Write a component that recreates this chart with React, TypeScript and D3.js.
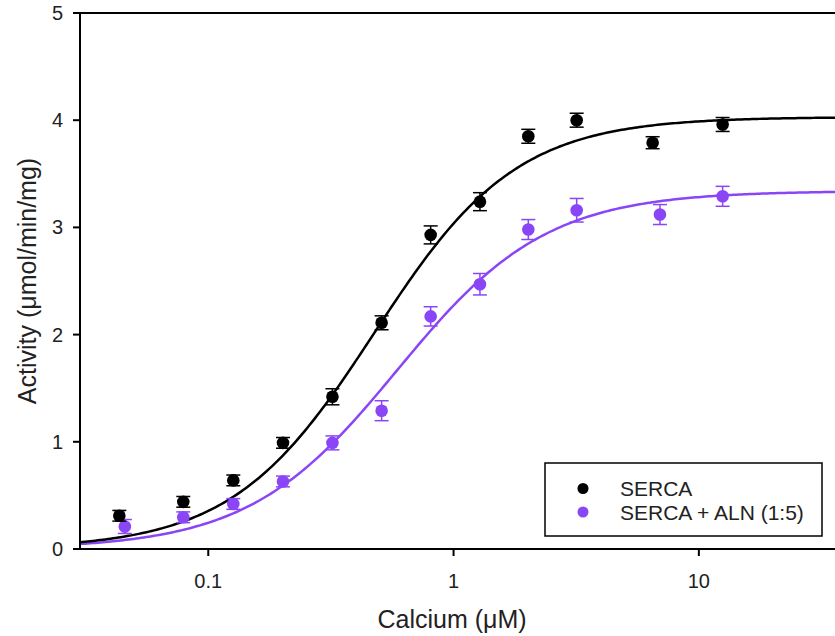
import React from 'react';
import * as d3 from 'd3';

const W = 835;
const H = 636;
const PLOT_LEFT = 80;
const PLOT_RIGHT = 835;
const PLOT_TOP = 13;
const PLOT_BOTTOM = 549;
const DECADE_PX = 245.3;

const X_DOMAIN = [0.03, 40];
const Y_DOMAIN = [0, 5];
const X_TICKS = [0.1, 1, 10];
const X_TICK_LABELS = ['0.1', '1', '10'];
const Y_TICKS = [0, 1, 2, 3, 4, 5];

const SERCA_X = [0.0434, 0.0791, 0.1265, 0.2017, 0.3208, 0.509, 0.8065, 1.281, 2.017, 3.176, 6.48, 12.5];
const SERCA_Y = [0.31, 0.44, 0.64, 0.99, 1.42, 2.11, 2.93, 3.24, 3.85, 4.0, 3.79, 3.96];
const SERCA_ERR = [0.05, 0.05, 0.05, 0.05, 0.075, 0.065, 0.084, 0.084, 0.065, 0.065, 0.056, 0.065];

const ALN_X = [0.0457, 0.0791, 0.1265, 0.2017, 0.3208, 0.509, 0.8065, 1.281, 2.017, 3.176, 6.94, 12.5];
const ALN_Y = [0.21, 0.296, 0.42, 0.63, 0.99, 1.29, 2.17, 2.47, 2.98, 3.16, 3.12, 3.29];
const ALN_ERR = [0.065, 0.05, 0.05, 0.05, 0.065, 0.093, 0.09, 0.1, 0.093, 0.11, 0.093, 0.093];

// Hill fit parameters [Vmax, KCa, nH]
const SERCA_FIT = [4.03, 0.475, 1.5];
const ALN_FIT = [3.34, 0.59, 1.43];

const SERIES_NAMES = ['SERCA', 'SERCA + ALN (1:5)'];
const COLORS = ['#000000', '#8A46F6'];

const FONT = '"Liberation Sans", Arial, sans-serif';

const x = d3
  .scaleLog()
  .domain(X_DOMAIN)
  .range([PLOT_LEFT, PLOT_LEFT + DECADE_PX * Math.log10(X_DOMAIN[1] / X_DOMAIN[0])]);
const y = d3.scaleLinear().domain(Y_DOMAIN).range([PLOT_BOTTOM, PLOT_TOP]);

function hill(c: number, fit: number[]) {
  const [v, k, n] = fit;
  const t = Math.pow(c / k, n);
  return (v * t) / (1 + t);
}

function curvePath(fit: number[]) {
  const lx0 = Math.log10(X_DOMAIN[0]);
  const lx1 = Math.log10(X_DOMAIN[1]);
  const pts: [number, number][] = [];
  const N = 300;
  for (let i = 0; i <= N; i++) {
    const c = Math.pow(10, lx0 + ((lx1 - lx0) * i) / N);
    pts.push([x(c), y(hill(c, fit))]);
  }
  return d3.line()(pts) || '';
}

function Points({ xs, ys, errs, color }: { xs: number[]; ys: number[]; errs: number[]; color: string }) {
  return (
    <g>
      {xs.map((xv, i) => {
        const cx = x(xv);
        const cy = y(ys[i]);
        const top = y(ys[i] + errs[i]);
        const bot = y(ys[i] - errs[i]);
        return (
          <g key={i}>
            <line x1={cx} x2={cx} y1={top} y2={bot} stroke={color} strokeWidth={1.5} />
            <line x1={cx - 7} x2={cx + 7} y1={top} y2={top} stroke={color} strokeWidth={1.5} />
            <line x1={cx - 7} x2={cx + 7} y1={bot} y2={bot} stroke={color} strokeWidth={1.5} />
            <circle cx={cx} cy={cy} r={6.3} fill={color} />
          </g>
        );
      })}
    </g>
  );
}

export default function App() {
  return (
    <div style={{ position: 'absolute', left: 0, top: 0 }}>
      <svg width={W} height={H} style={{ display: 'block', background: '#fff' }} fontFamily={FONT}>
        <defs>
          <clipPath id="plotclip">
            <rect x={PLOT_LEFT} y={0} width={PLOT_RIGHT - PLOT_LEFT} height={PLOT_BOTTOM + 1} />
          </clipPath>
        </defs>
        <rect x={0} y={0} width={W} height={H} fill="#fff" />
        <g clipPath="url(#plotclip)">
          <path d={curvePath(ALN_FIT)} fill="none" stroke={COLORS[1]} strokeWidth={2.5} />
          <path d={curvePath(SERCA_FIT)} fill="none" stroke={COLORS[0]} strokeWidth={2.5} />
        </g>
        <Points xs={ALN_X} ys={ALN_Y} errs={ALN_ERR} color={COLORS[1]} />
        <Points xs={SERCA_X} ys={SERCA_Y} errs={SERCA_ERR} color={COLORS[0]} />

        {/* axes */}
        <line x1={PLOT_LEFT} x2={PLOT_RIGHT} y1={PLOT_TOP} y2={PLOT_TOP} stroke="#000" strokeWidth={2} />
        <line x1={PLOT_LEFT} x2={PLOT_RIGHT} y1={PLOT_BOTTOM} y2={PLOT_BOTTOM} stroke="#000" strokeWidth={2} />
        <line x1={PLOT_LEFT} x2={PLOT_LEFT} y1={PLOT_TOP - 1} y2={PLOT_BOTTOM + 1} stroke="#000" strokeWidth={2} />

        {Y_TICKS.map((t) => (
          <g key={t}>
            <line x1={PLOT_LEFT - 7} x2={PLOT_LEFT} y1={y(t)} y2={y(t)} stroke="#000" strokeWidth={2} />
            <text x={63} y={y(t)} dy="0.35em" textAnchor="end" fontSize={20} fill="#222">
              {t}
            </text>
          </g>
        ))}
        {X_TICKS.map((t, i) => (
          <g key={t}>
            <line x1={x(t)} x2={x(t)} y1={PLOT_BOTTOM} y2={PLOT_BOTTOM + 7} stroke="#000" strokeWidth={2} />
            <text x={x(t)} y={588} textAnchor="middle" fontSize={20} fill="#222">
              {X_TICK_LABELS[i]}
            </text>
          </g>
        ))}

        <text x={452} y={628} textAnchor="middle" fontSize={25} fill="#222">
          Calcium (μM)
        </text>
        <text transform={`translate(36, 281) rotate(-90)`} textAnchor="middle" fontSize={25} fill="#222">
          Activity (μmol/min/mg)
        </text>

        {/* legend */}
        <rect x={545} y={463} width={277} height={73} fill="#fff" stroke="#000" strokeWidth={1.5} />
        {SERIES_NAMES.map((name, i) => (
          <g key={name}>
            <circle cx={583} cy={488.5 + i * 23.5} r={5.5} fill={COLORS[i]} />
            <text x={620} y={488.5 + i * 23.5} dy="0.36em" fontSize={21} fill="#222">
              {name}
            </text>
          </g>
        ))}
      </svg>
    </div>
  );
}
